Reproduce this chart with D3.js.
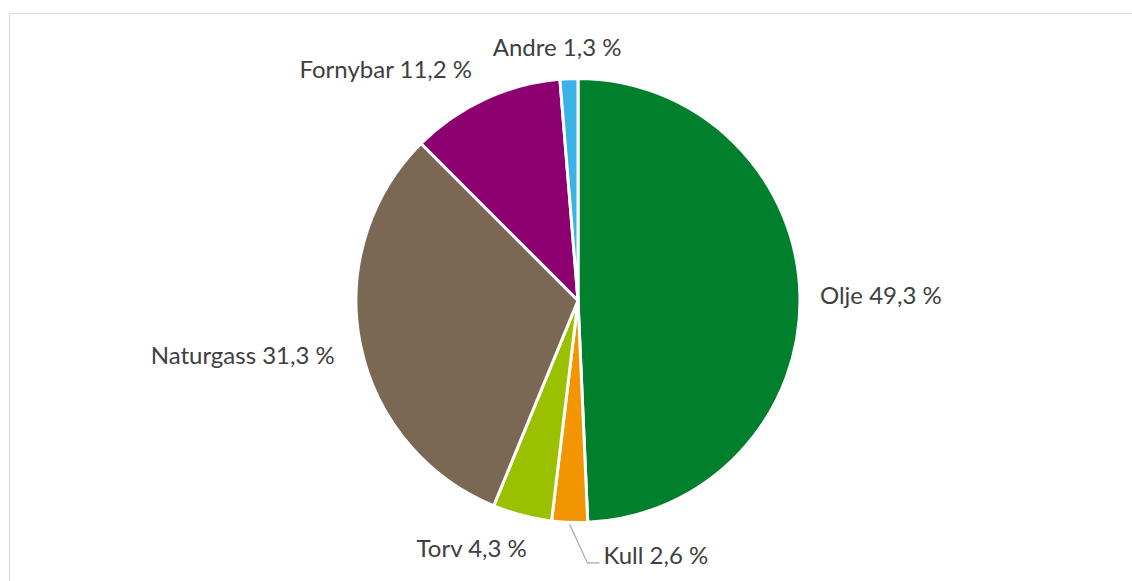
<!DOCTYPE html>
<html>
<head>
<meta charset="utf-8">
<script src="https://cdn.jsdelivr.net/npm/d3@7"></script>
<style>
  html, body { margin: 0; padding: 0; background: #ffffff; }
  svg { display: block; }
  text { font-family: Lato, "Open Sans", sans-serif; fill: #404040; }
</style>
</head>
<body>
<svg id="chart" width="1132" height="581"></svg>
<script>
// Energy sources, share in percent
const categories = ["Olje", "Kull", "Torv", "Naturgass", "Fornybar", "Andre"];
const shares = [49.3, 2.6, 4.3, 31.3, 11.2, 1.3];
const colors = ["#007f2d", "#f39500", "#9bc000", "#7a6854", "#8c006f", "#3cb3e6"];

const width = 1132, height = 581;
const cx = 578, cy = 300.5, radius = 222;
const labelRadius = radius + 23;
const labelShiftX = -3;
const fontSize = 24;

const svg = d3.select("#chart");

// chart area frame
svg.append("rect")
  .attr("x", 9.5).attr("y", 13.5)
  .attr("width", width + 20).attr("height", height + 20)
  .attr("fill", "none").attr("stroke", "#d9d9d9").attr("stroke-width", 1);

const data = categories.map((c, i) => ({ name: c, value: shares[i], color: colors[i] }));

const pie = d3.pie().value(d => d.value).sort(null);
const arcs = pie(data);
const arc = d3.arc().innerRadius(0).outerRadius(radius);

const g = svg.append("g").attr("transform", `translate(${cx},${cy})`);

g.selectAll("path.slice")
  .data(arcs)
  .join("path")
  .attr("class", "slice")
  .attr("d", arc)
  .attr("fill", d => d.data.color)
  .attr("stroke", "#ffffff")
  .attr("stroke-width", 3)
  .attr("stroke-linejoin", "round");

const fmt = v => d3.format(".1f")(v).replace(".", ",") + " %";

// labels: place the text box just outside the slice, pushed away from the centre
const labels = g.selectAll("text.lbl")
  .data(arcs)
  .join("text")
  .attr("class", "lbl")
  .attr("font-size", fontSize)
  .attr("text-anchor", "middle")
  .attr("dominant-baseline", "central")
  .text(d => d.data.name + " " + fmt(d.data.value));

// small labels crowded at the bottom are moved aside and get a leader line
const moved = { "Kull": [96, 0] };

labels.each(function(d) {
  const a = (d.startAngle + d.endAngle) / 2;
  const s = Math.sin(a), c = -Math.cos(a);
  const bb = this.getBBox();
  const w = bb.width, h = fontSize * 0.8;
  let x = s * labelRadius + Math.max(-1, Math.min(1, s * 3)) * w / 2 + labelShiftX;
  let y = c * labelRadius + Math.max(-1, Math.min(1, c * 3)) * h / 2;
  const m = moved[d.data.name];
  if (m) {
    x += m[0]; y += m[1];
    const p0 = [s * (radius + 2), c * (radius + 2)];
    const ly = y + 8;
    const lx = x - w / 2 - 4;
    g.append("polyline")
      .attr("points", [p0, [lx - 12, ly], [lx, ly]].map(p => p.join(",")).join(" "))
      .attr("fill", "none")
      .attr("stroke", "#a6a6a6")
      .attr("stroke-width", 1.2);
  }
  d3.select(this).attr("x", x).attr("y", y);
});
</script>
</body>
</html>
